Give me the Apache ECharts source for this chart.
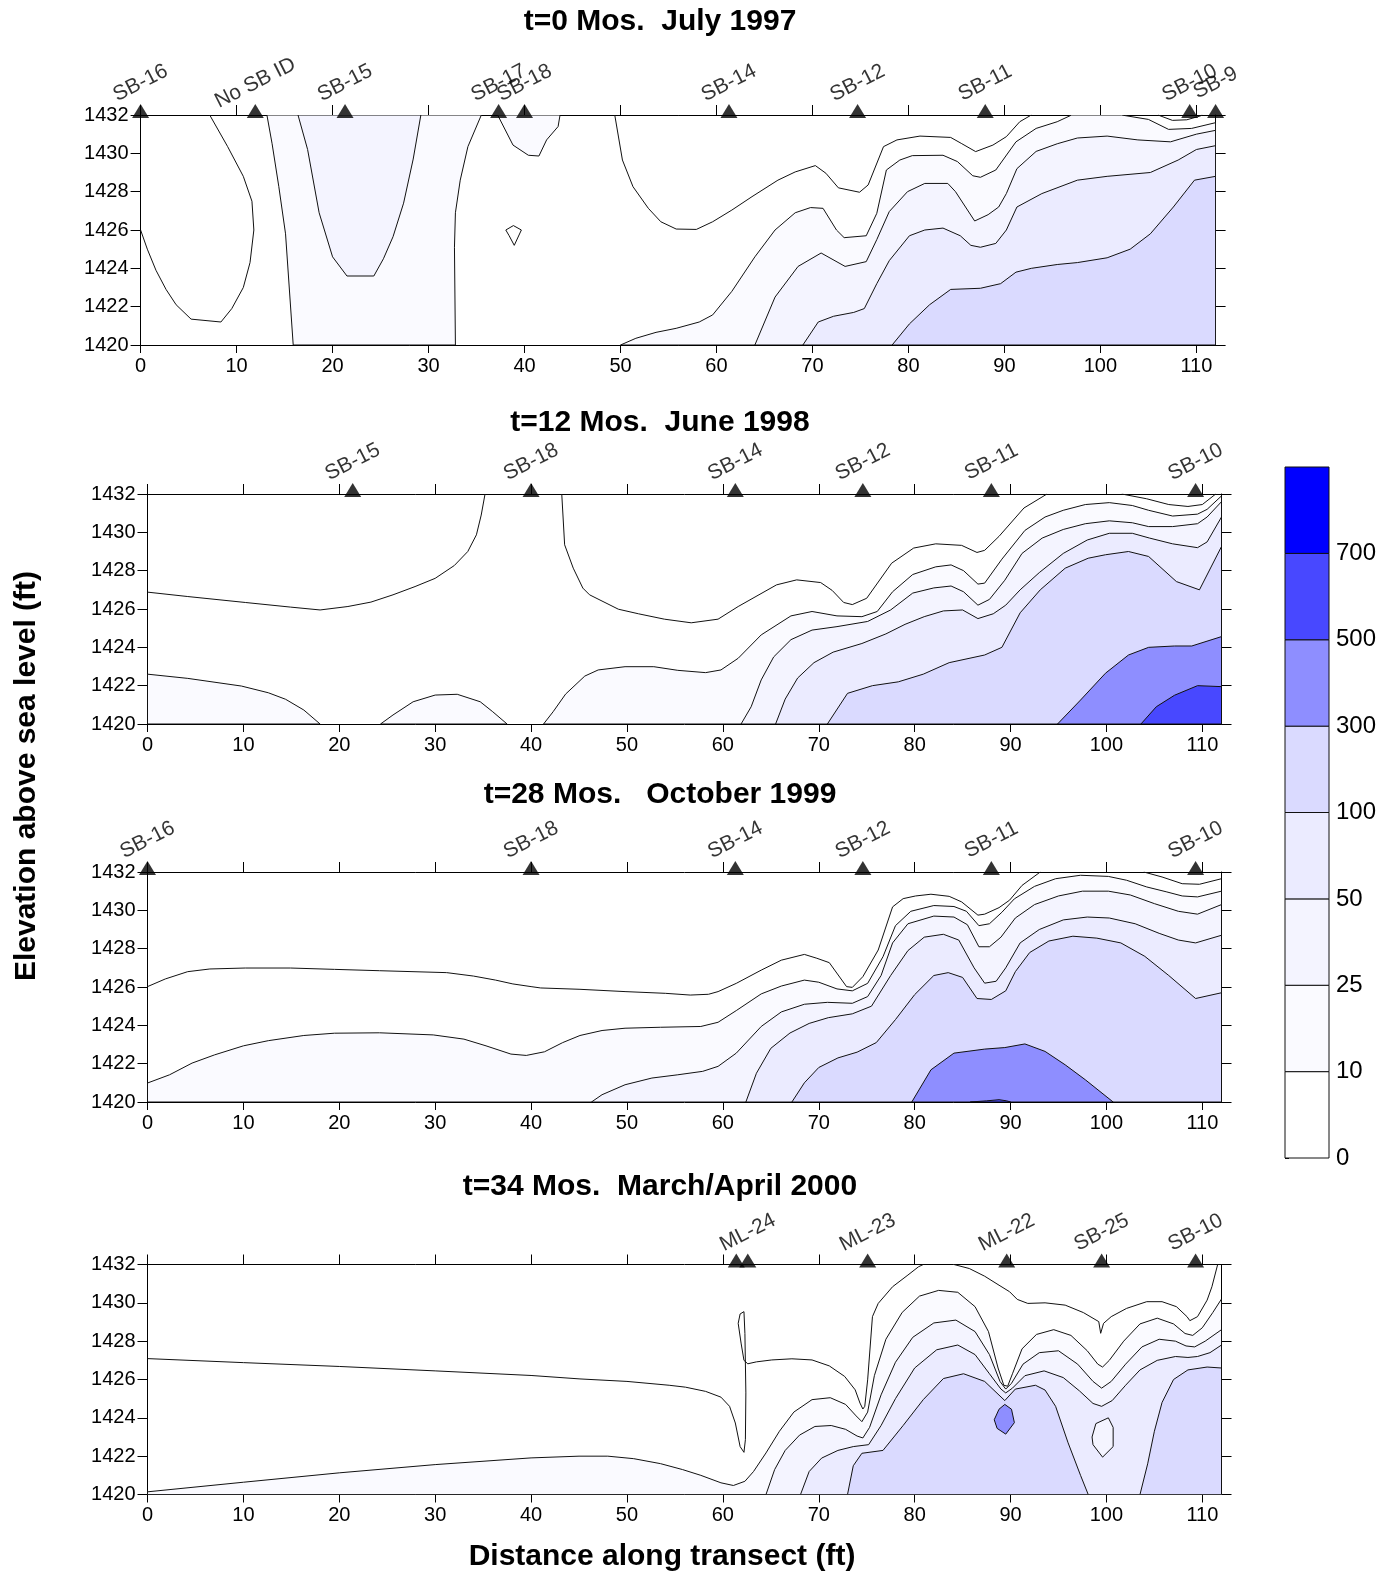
<!DOCTYPE html>
<html>
<head>
<meta charset="utf-8">
<title>Transect concentration sections</title>
<script src="https://cdn.jsdelivr.net/npm/echarts/dist/echarts.min.js"></script>
<style>
  html, body { margin: 0; padding: 0; background: #ffffff; }
  #chart { width: 1395px; height: 1574px; }
</style>
</head>
<body>
<div id="chart"></div>
<script>
// ---------- shared scales ----------
const FONT = '"Liberation Sans", Arial, Helvetica, sans-serif';
const xTicks = [0, 10, 20, 30, 40, 50, 60, 70, 80, 90, 100, 110];
const levelLabels = ['0', '10', '25', '50', '100', '300', '500', '700'];
const levelColors = ['#FFFFFF', '#FAFAFF', '#F4F4FF', '#EBEBFF', '#DADAFF', '#8E8EFF', '#4848FF', '#0000FF'];
// contour value -> band index in levelColors
const bandOf = { 10: 1, 25: 2, 50: 3, 100: 4, 300: 5, 500: 6, 700: 7 };

const titles = ['t=0 Mos.  July 1997', 't=12 Mos.  June 1998', 't=28 Mos.   October 1999', 't=34 Mos.  March/April 2000'];

// ---------- boreholes along the transect (ft) ----------
const p1Wells = ['SB-16', 'No SB ID', 'SB-15', 'SB-17', 'SB-18', 'SB-14', 'SB-12', 'SB-11', 'SB-10', 'SB-9'];
const p1WellX = [0, 11.95, 21.3, 37.3, 40.0, 61.3, 74.7, 88.0, 109.3, 112];
const p2Wells = ['SB-15', 'SB-18', 'SB-14', 'SB-12', 'SB-11', 'SB-10'];
const p2WellX = [21.4, 40.0, 61.3, 74.6, 88.0, 109.3];
const p3Wells = ['SB-16', 'SB-18', 'SB-14', 'SB-12', 'SB-11', 'SB-10'];
const p3WellX = [0, 40.0, 61.3, 74.6, 88.0, 109.3];
const p4Wells = ['', 'ML-24', 'ML-23', 'ML-22', 'SB-25', 'SB-10'];
const p4WellX = [61.4, 62.6, 75.1, 89.6, 99.5, 109.3];

// ---------- t=0 (July 1997): contour outlines [distance, elevation] ----------
const p1_5a = [[0,1426.0],[0.7,1425.0],[1.6,1423.9],[2.65,1422.9],[3.7,1422.1],[5.26,1421.35],[8.37,1421.2],[9.5,1421.9],[10.7,1423.0],[11.4,1424.3],[11.8,1426.0],[11.6,1427.5],[10.7,1428.8],[9.07,1430.35],[7.2,1432]];
const p1_5b = [[38.05,1426.0],[38.84,1426.23],[39.67,1426.0],[38.93,1425.2],[38.4,1425.7],[38.05,1426.0]];
const p1_5c = [[49.4,1432],[50.2,1429.65],[51.3,1428.26],[52.9,1427.13],[54.2,1426.43],[55.8,1426.05],[57.9,1426.03],[59.6,1426.43],[61.6,1427.04],[63.7,1427.74],[66.4,1428.6],[68.2,1429.03],[70.3,1429.36],[71.4,1428.96],[72.7,1428.2],[74.9,1427.97],[75.8,1428.35],[77.4,1430.35],[78.8,1430.7],[81.2,1430.9],[84.4,1430.83],[85.5,1430.52],[87.0,1430.09],[88.8,1430.43],[90.2,1430.87],[91.6,1431.65],[92.8,1432]];
const p1_5d = [[106,1432],[107.5,1431.72],[109,1431.75],[110.4,1431.95],[110.6,1432]];
const p1_10a = [[13.16,1432],[13.7,1430.5],[14.4,1428.26],[15.1,1425.8],[15.9,1420],[32.8,1420],[32.7,1425.1],[32.8,1426.9],[33.3,1428.6],[34.1,1430.35],[35.5,1432]];
const p1_10b = [[37.2,1432],[38.8,1430.43],[40.4,1429.9],[41.5,1429.86],[42.3,1430.7],[43.5,1431.4],[43.7,1432]];
const p1_10c = [[50,1420],[51.6,1420.35],[53.7,1420.66],[55.8,1420.87],[58.2,1421.2],[59.6,1421.57],[61.6,1422.8],[64.0,1424.6],[66.1,1426.0],[68.2,1426.9],[69.8,1427.17],[71.1,1427.13],[72.5,1426.0],[73.3,1425.6],[75.6,1425.7],[76.7,1426.87],[77.7,1429.13],[79.1,1429.65],[80.4,1429.88],[83.6,1429.9],[85.1,1429.57],[86.7,1428.83],[87.5,1428.75],[89.1,1429.13],[91.2,1430.6],[93.3,1431.3],[95.5,1431.65],[97.0,1432],[102.2,1432],[105,1431.77],[107.1,1431.25],[109.5,1431.3],[112,1431.6],[112,1420]];
const p1_25a = [[16.4,1432],[17.4,1430.2],[18.6,1426.9],[20,1424.6],[21.5,1423.6],[24.3,1423.6],[25.3,1424.5],[26.3,1425.65],[27.4,1427.4],[28.4,1429.7],[29.2,1432]];
const p1_25b = [[64.0,1420],[66.1,1422.5],[68.5,1424.1],[70.9,1424.8],[73.4,1424.1],[75.6,1424.35],[76.7,1425.5],[78.0,1426.96],[79.9,1428.0],[81.7,1428.43],[84.1,1428.43],[84.9,1428.0],[86.9,1426.47],[88.3,1426.8],[89.4,1427.2],[90.2,1427.9],[91.3,1429.2],[93.3,1430.1],[95.5,1430.5],[97.6,1430.8],[100.7,1430.9],[103.9,1430.7],[107.3,1430.6],[110,1431.0],[112,1431.2],[112,1420]];
const p1_50 = [[69.0,1420],[70.6,1421.2],[72.2,1421.5],[74.3,1421.7],[75.4,1421.9],[76.7,1423.2],[78.0,1424.4],[80.1,1425.7],[81.7,1426.0],[83.6,1426.1],[85.4,1425.7],[86.5,1425.2],[87.5,1425.1],[89.1,1425.3],[90.2,1426.0],[91.3,1427.2],[93.9,1427.9],[97.6,1428.6],[100.7,1428.8],[105.2,1429.0],[108.1,1429.65],[110,1430.2],[112,1430.4],[112,1420]];
const p1_100 = [[78.3,1420],[80.1,1421.1],[82.2,1422.1],[84.4,1422.9],[87.5,1422.96],[89.6,1423.2],[91.2,1423.8],[92.8,1424.0],[95.5,1424.2],[97.6,1424.3],[100.7,1424.55],[103.1,1425.0],[105.2,1425.8],[107.6,1427.2],[109.8,1428.6],[112,1428.8],[112,1420]];

// ---------- t=12 (June 1998) ----------
const p2_5a = [[0,1426.88],[4.2,1426.65],[10.2,1426.34],[14.9,1426.1],[18,1425.95],[20.9,1426.13],[23.3,1426.36],[25.6,1426.74],[27.9,1427.17],[30,1427.6],[32,1428.27],[33.4,1429.0],[34.3,1429.87],[34.8,1430.9],[35.2,1432]];
const p2_5b = [[43.2,1432],[43.5,1429.35],[44.4,1428.13],[45.4,1427.09],[46.1,1426.74],[49.1,1425.99],[51.2,1425.75],[53.9,1425.47],[56.7,1425.28],[59.5,1425.47],[61.6,1426.13],[65.6,1427.26],[67.7,1427.52],[70.2,1427.38],[71.4,1426.97],[72.6,1426.34],[73.5,1426.23],[75,1426.56],[77.6,1428.39],[79.9,1429.18],[82.2,1429.4],[84.9,1429.32],[86.5,1428.95],[87.3,1429.06],[88.8,1429.79],[91.4,1431.27],[93.8,1432]];
const p2_5c = [[101.6,1432],[104.2,1431.75],[106.5,1431.45],[108.5,1431.35],[110,1431.45],[111.4,1432]];
const p2_10a = [[0,1420],[0,1422.6],[4.2,1422.38],[9.8,1421.98],[12.6,1421.63],[14.4,1421.29],[16.3,1420.73],[18,1420]];
const p2_10b = [[24.3,1420],[25.6,1420.47],[27.7,1421.16],[30,1421.51],[32.3,1421.55],[34.7,1421.16],[36.0,1420.64],[37.5,1420]];
const p2_10c = [[41.3,1420],[42.3,1420.64],[43.6,1421.56],[45.6,1422.5],[47,1422.82],[49.8,1422.99],[52.8,1422.99],[55.3,1422.8],[58.2,1422.68],[59.8,1422.82],[61.6,1423.43],[64,1424.65],[67.1,1425.64],[69.3,1425.87],[71.9,1425.64],[74.5,1425.6],[76.1,1425.87],[77.7,1426.9],[79.8,1427.8],[82.2,1428.2],[83.8,1428.3],[85.1,1428.0],[86.6,1427.3],[87.3,1427.35],[89.1,1428.6],[91.5,1430.1],[93.6,1430.8],[95.5,1431.15],[97.8,1431.45],[100.3,1431.55],[102.7,1431.4],[104.4,1431.15],[106.9,1430.85],[109.5,1430.95],[110.5,1431.2],[112,1431.9],[112,1420]];
const p2_25 = [[61.9,1420],[62.95,1420.9],[64,1422.3],[65.3,1423.5],[67.1,1424.4],[69.3,1424.9],[71.9,1425.08],[75.1,1425.35],[77.5,1425.95],[79.8,1426.83],[82,1427.1],[83.8,1427.2],[85.1,1426.9],[86.6,1426.2],[87.8,1426.5],[89.4,1427.5],[91.2,1428.9],[93.3,1429.7],[95.5,1430.15],[97.8,1430.45],[100.3,1430.6],[102.7,1430.5],[104.4,1430.3],[106.9,1430.3],[109.5,1430.45],[110.5,1430.8],[112,1431.6],[112,1420]];
const p2_50 = [[65.5,1420],[66.5,1421.3],[67.8,1422.4],[69.5,1423.2],[71.5,1423.75],[74.5,1424.2],[77,1424.7],[79,1425.2],[81,1425.6],[83,1425.9],[85,1425.95],[86.6,1425.5],[88.2,1425.75],[89.5,1426.2],[91,1427.0],[93,1427.9],[95.5,1428.9],[98,1429.6],[100.3,1429.95],[102.7,1429.95],[104.5,1429.7],[106.9,1429.4],[109.5,1429.2],[110.5,1429.5],[112,1430.8],[112,1420]];
const p2_100 = [[70.9,1420],[73,1421.6],[75.6,1422.0],[78.3,1422.2],[80.9,1422.6],[83.6,1423.2],[87.3,1423.6],[89.1,1424.0],[91,1425.8],[93.1,1427.0],[95.7,1428.13],[98.1,1428.65],[99.9,1428.83],[102.3,1429.0],[104.4,1428.74],[107.3,1427.43],[109.7,1427.0],[112,1429.26],[112,1420]];
const p2_300 = [[94.9,1420],[97.3,1421.25],[99.9,1422.65],[102.3,1423.6],[104.4,1424.0],[107.1,1424.07],[108.9,1424.07],[112,1424.56],[112,1420]];
const p2_500 = [[103.6,1420],[105.2,1420.9],[107.1,1421.5],[109.5,1422.0],[112,1421.95],[112,1420]];

// ---------- t=28 (October 1999) ----------
const p3_5a = [[0,1426.02],[1.86,1426.42],[4.19,1426.8],[6.5,1426.94],[10.2,1426.99],[14.9,1426.99],[19.5,1426.92],[24.2,1426.85],[31.2,1426.75],[34,1426.57],[36.3,1426.36],[38.1,1426.16],[40,1426.02],[41,1425.95],[45.1,1425.88],[49.8,1425.76],[54,1425.67],[56.6,1425.58],[58.5,1425.62],[59.5,1425.76],[61.4,1426.19],[64,1426.88],[66.1,1427.4],[68.5,1427.7],[69.8,1427.5],[71.1,1427.27],[72.9,1426.02],[73.5,1425.98],[74.6,1426.54],[76.2,1427.93],[77.7,1430.18],[78.8,1430.61],[80.1,1430.75],[81.7,1430.84],[83.6,1430.73],[84.9,1430.44],[86.6,1429.75],[87.3,1429.8],[88.8,1430.14],[89.9,1430.53],[91.2,1431.3],[93.1,1432]];
const p3_5b = [[103.9,1432],[105.8,1431.74],[107.9,1431.39],[109.7,1431.36],[112,1431.65]];
const p3_10 = [[0,1420],[0,1420.99],[2.3,1421.42],[4.65,1422.03],[7,1422.46],[10,1422.93],[12.6,1423.2],[16.3,1423.47],[19.5,1423.59],[24.2,1423.61],[29.8,1423.5],[33,1423.28],[35.3,1422.93],[37.9,1422.5],[39.5,1422.43],[41.4,1422.62],[43.3,1423.1],[45.1,1423.47],[47.4,1423.73],[49.8,1423.85],[53.5,1423.9],[57.7,1423.94],[59.5,1424.16],[61.4,1424.77],[64,1425.64],[66.1,1426.05],[68.5,1426.36],[70,1426.25],[71.9,1425.9],[73.5,1425.8],[75.1,1426.19],[76.7,1427.58],[78,1429.2],[79.6,1429.95],[82,1430.25],[84.1,1430.2],[85.4,1429.95],[86.7,1429.2],[87.8,1429.3],[89.1,1429.9],[90.4,1430.6],[92.5,1431.25],[94.7,1431.65],[97.3,1431.83],[100.2,1431.77],[102.1,1431.57],[104.2,1431.22],[106.3,1430.96],[107.9,1430.75],[109.5,1430.7],[112,1431.0],[112,1420]];
const p3_25 = [[46.3,1420],[47.4,1420.38],[49.8,1420.9],[52.6,1421.25],[55.3,1421.42],[57.9,1421.6],[59.5,1421.86],[61.4,1422.55],[64,1423.94],[66.1,1424.7],[68.5,1425.1],[70.9,1425.2],[73.5,1425.15],[75.1,1425.5],[76.5,1426.6],[77.7,1428.3],[79.3,1429.3],[82,1429.7],[84.1,1429.65],[85.5,1429.25],[86.7,1428.1],[87.8,1428.1],[89,1428.6],[90.5,1429.6],[92.5,1430.3],[95,1430.75],[97.5,1431.0],[100.2,1431.0],[102.5,1430.8],[105,1430.35],[107.5,1429.95],[109.5,1429.8],[112,1430.3],[112,1420]];
const p3_50 = [[62.4,1420],[63.5,1421.5],[65,1422.8],[67,1423.6],[69,1424.1],[71,1424.4],[73.5,1424.6],[75.5,1425.0],[77.5,1426.6],[79.3,1427.9],[81,1428.6],[83,1428.75],[84.6,1428.45],[86.2,1427.0],[87.3,1426.2],[88.5,1426.3],[89.5,1427.0],[91,1428.3],[93,1429.0],[95.5,1429.5],[98,1429.65],[100.3,1429.6],[103,1429.3],[105.5,1428.8],[107.5,1428.45],[109.3,1428.3],[112,1428.7],[112,1420]];
const p3_100 = [[67.2,1420],[68.5,1421.0],[70,1421.8],[72,1422.3],[74,1422.6],[76,1423.1],[78,1424.3],[80,1425.6],[82,1426.6],[83.5,1426.75],[85,1426.5],[86.5,1425.4],[88,1425.35],[89.5,1425.8],[90.5,1426.8],[92,1427.8],[94,1428.4],[96.5,1428.65],[99,1428.55],[101.5,1428.3],[104,1427.6],[106.5,1426.6],[109.3,1425.4],[112,1425.7],[112,1420]];
const p3_300 = [[79.7,1420],[81.7,1421.68],[84.1,1422.55],[87.3,1422.76],[89.4,1422.84],[91.5,1423.03],[93.6,1422.64],[95.7,1421.94],[97.8,1421.16],[100.7,1420]];
const p3_500 = [[85.8,1420],[87.5,1420.06],[88.8,1420.12],[89.6,1420.06],[90,1420]];

// ---------- t=34 (March/April 2000) ----------
const p4_5a = [[0,1427.09],[10,1426.88],[20,1426.68],[30,1426.45],[40,1426.21],[45.1,1426.03],[50,1425.9],[54.4,1425.7],[56.1,1425.6],[58.2,1425.38],[59.8,1425.08],[60.7,1424.6],[61.3,1423.73],[61.8,1422.5],[62.2,1422.2],[62.35,1422.86],[62.4,1425.3],[62.3,1428.4],[62.2,1429.54],[61.8,1429.42],[61.6,1428.93],[61.9,1427.9],[62.2,1427.0],[62.6,1426.82],[63.5,1426.92],[65.1,1427.02],[67.2,1427.08],[69.3,1427.02],[71.1,1426.71],[72.7,1426.16],[73.8,1425.46],[74.3,1424.77],[74.6,1424.46],[74.8,1424.6],[75.1,1425.98],[75.6,1429.28],[76.2,1429.97],[77.7,1430.84],[79.3,1431.45],[80.4,1431.88],[80.9,1432]];
const p4_5b = [[84.1,1432],[85.7,1431.79],[87.3,1431.39],[88.8,1430.92],[89.9,1430.58],[90.7,1430.18],[91.8,1429.97],[93.6,1430.0],[95.7,1429.88],[97.6,1429.49],[99.2,1429.02],[99.4,1428.41],[99.7,1428.93],[100.5,1429.28],[102.1,1429.71],[104.2,1430.06],[105.8,1430.06],[107.3,1429.8],[108.4,1429.28],[108.7,1429.07],[109.5,1429.28],[110.5,1430.14],[111.0,1430.84],[111.6,1432]];
const p4_10 = [[0,1420],[0,1420.14],[10,1420.64],[20,1421.13],[30,1421.56],[40,1421.91],[45,1422.0],[48,1422.0],[50.7,1421.87],[53.5,1421.61],[55.8,1421.3],[57.7,1421.0],[59.8,1420.61],[61.1,1420.47],[62.3,1420.69],[63.2,1421.2],[64.5,1422.17],[65.9,1423.3],[67.4,1424.3],[69.3,1424.95],[71.2,1425.05],[72.8,1424.7],[73.9,1424.1],[74.5,1423.8],[75.1,1424.3],[75.8,1426.2],[77,1428.1],[78.7,1429.5],[80.5,1430.35],[82.5,1430.65],[84.5,1430.55],[86.3,1429.8],[87.7,1428.5],[88.7,1426.6],[89.3,1425.7],[89.7,1425.65],[90.2,1426.3],[91.2,1427.6],[92.7,1428.35],[94.5,1428.6],[96.3,1428.3],[98,1427.5],[99.1,1426.8],[99.6,1426.65],[100.3,1427.0],[101.8,1428.0],[103.5,1428.9],[105.3,1429.2],[107,1428.9],[108.2,1428.4],[109,1428.3],[110,1428.7],[111.1,1429.5],[112,1430.2],[112,1420]];
const p4_25 = [[64.5,1420],[65.4,1421.3],[66.5,1422.3],[68,1423.1],[69.6,1423.55],[71.3,1423.6],[72.8,1423.4],[74,1423.05],[74.6,1422.95],[75.3,1423.5],[76.5,1425.2],[78,1426.9],[79.8,1428.2],[82,1428.95],[84.3,1429.1],[86.3,1428.5],[87.8,1427.3],[88.9,1425.9],[89.5,1425.5],[90.1,1425.8],[91.3,1426.8],[93,1427.4],[95,1427.5],[97,1426.8],[98.6,1425.9],[99.5,1425.55],[100.5,1425.9],[102,1426.8],[103.7,1427.7],[105.5,1428.1],[107.2,1428.0],[108.3,1427.75],[109.2,1427.7],[110.3,1428.0],[112,1428.6],[112,1420]];
const p4_50 = [[68.1,1420],[69,1421.2],[70.3,1421.9],[72,1422.3],[73.6,1422.5],[75.2,1422.6],[76.5,1423.6],[78,1425.0],[80,1426.6],[82.3,1427.55],[84.5,1427.8],[86.3,1427.3],[87.8,1426.3],[89,1425.5],[89.5,1425.3],[90.2,1425.55],[91.5,1426.2],[93.5,1426.45],[95.5,1426.1],[97.2,1425.4],[98.6,1424.75],[99.5,1424.6],[100.6,1424.9],[102,1425.7],[103.5,1426.5],[105.3,1427.0],[107.2,1427.2],[108.5,1427.15],[109.5,1427.2],[110.8,1427.4],[112,1427.8],[112,1420]];
const p4_25in = [[98.5,1423.0],[98.9,1423.7],[100.2,1424.0],[100.7,1423.5],[100.7,1422.5],[99.6,1421.95],[98.6,1422.6]];
const p4_100a = [[73,1420],[73.6,1421.5],[74.5,1422.15],[76.7,1422.3],[78.8,1423.6],[80.9,1424.95],[83,1426.05],[85.1,1426.3],[87.3,1425.9],[89.4,1424.9],[90.5,1425.5],[92.6,1425.7],[93.6,1425.45],[94.7,1424.6],[96,1422.7],[97.3,1421.0],[98.1,1420]];
const p4_100b = [[103.5,1420],[104.3,1421.6],[105,1423.3],[105.8,1424.8],[107,1426.0],[108.5,1426.5],[110.5,1426.65],[112,1426.6],[112,1420]];
const p4_300 = [[88.3,1423.9],[88.8,1424.45],[89.4,1424.7],[90.1,1424.45],[90.4,1423.75],[89.5,1423.15],[88.6,1423.45]];

// filled bands per section, lowest level first; each entry is [contour value, outline]
const sections = [
  { grid: { left: 140.6, top: 115, width: 1075, height: 230 }, titleY: 22,
    fills: [[10, p1_10a], [10, p1_10b], [10, p1_10c], [25, p1_25a], [25, p1_25b], [50, p1_50], [100, p1_100]],
    lines: [p1_5a, p1_5b, p1_5c, p1_5d], wells: p1Wells, wellX: p1WellX },
  { grid: { left: 147.5, top: 494, width: 1074, height: 230 }, titleY: 423,
    fills: [[10, p2_10a], [10, p2_10b], [10, p2_10c], [25, p2_25], [50, p2_50], [100, p2_100], [300, p2_300], [500, p2_500]],
    lines: [p2_5a, p2_5b, p2_5c], wells: p2Wells, wellX: p2WellX },
  { grid: { left: 147.5, top: 872, width: 1074, height: 230 }, titleY: 795,
    fills: [[10, p3_10], [25, p3_25], [50, p3_50], [100, p3_100], [300, p3_300], [500, p3_500]],
    lines: [p3_5a, p3_5b], wells: p3Wells, wellX: p3WellX },
  { grid: { left: 147.5, top: 1264.5, width: 1074, height: 230 }, titleY: 1187,
    fills: [[10, p4_10], [25, p4_25], [50, p4_50], [25, p4_25in], [100, p4_100a], [100, p4_100b], [300, p4_300]],
    lines: [p4_5a, p4_5b], wells: p4Wells, wellX: p4WellX }
];

// ---------- option assembly ----------
const grids = [], xAxes = [], yAxes = [], series = [], graphics = [];
const black = '#000000';

sections.forEach((s, gi) => {
  grids.push(Object.assign({ containLabel: false }, s.grid));
  // bottom axis (labelled) and top axis (ticks only)
  xAxes.push({
    type: 'value', gridIndex: gi, min: 0, max: 112, position: 'bottom',
    axisLine: { onZero: false, lineStyle: { color: black, width: 1 } },
    axisTick: { customValues: xTicks, length: 8, lineStyle: { color: black } },
    axisLabel: { customValues: xTicks, margin: 11, fontSize: 20, fontFamily: FONT, color: black,
      formatter: v => String(v) },
    splitLine: { show: false }
  });
  xAxes.push({
    type: 'value', gridIndex: gi, min: 0, max: 112, position: 'top',
    axisLine: { onZero: false, lineStyle: { color: black, width: 1 } },
    axisTick: { customValues: xTicks, length: 10, lineStyle: { color: black } },
    axisLabel: { show: false }, splitLine: { show: false }
  });
  // left axis (labelled) and right axis (ticks only)
  yAxes.push({
    type: 'value', gridIndex: gi, min: 1420, max: 1432, interval: 2, position: 'left',
    axisLine: { show: true, onZero: false, lineStyle: { color: black, width: 1 } },
    axisTick: { show: true, length: 10, lineStyle: { color: black } },
    axisLabel: { margin: 12, fontSize: 20, fontFamily: FONT, color: black, formatter: v => String(v) },
    splitLine: { show: false }
  });
  yAxes.push({
    type: 'value', gridIndex: gi, min: 1420, max: 1432, interval: 2, position: 'right',
    axisLine: { show: true, onZero: false, lineStyle: { color: black, width: 1 } },
    axisTick: { show: true, length: 10, lineStyle: { color: black } },
    axisLabel: { show: false }, splitLine: { show: false }
  });

  const xi = gi * 2, yi = gi * 2;
  const fills = s.fills;
  // filled contour bands, outlined with their contour line
  series.push({
    type: 'custom', xAxisIndex: xi, yAxisIndex: yi, clip: true, silent: true, z: 2,
    data: fills.map((f, i) => [i]),
    renderItem: function (params, api) {
      const f = fills[params.dataIndex];
      const pts = f[1].map(p => api.coord(p));
      return {
        type: 'polygon', shape: { points: pts },
        style: { fill: levelColors[bandOf[f[0]]], stroke: '#111111', lineWidth: 1, lineJoin: 'round' }
      };
    }
  });
  // lower contour lines inside the white band
  s.lines.forEach(line => {
    series.push({
      type: 'line', xAxisIndex: xi, yAxisIndex: yi, data: line, symbol: 'none', showSymbol: false,
      silent: true, z: 3, clip: true, lineStyle: { color: '#111111', width: 1 }
    });
  });
  // borehole markers on the ground line
  series.push({
    type: 'scatter', xAxisIndex: xi, yAxisIndex: yi, clip: false, silent: true, z: 6,
    symbol: 'triangle', symbolSize: [17, 14], symbolOffset: [0, -4],
    itemStyle: { color: black },
    data: s.wells.map((n, i) => ({ name: n, value: [s.wellX[i], 1432] })),
    label: {
      show: true, formatter: '{b}', position: 'top', distance: 21, rotate: 27,
      align: 'center', verticalAlign: 'middle',
      fontSize: 21, fontFamily: FONT, color: black
    }
  });

  graphics.push({
    type: 'text', x: 660, y: s.titleY, silent: true,
    style: { text: titles[gi], fill: black, font: 'bold 30px ' + FONT, align: 'center', verticalAlign: 'middle' }
  });
});

// colour scale bar: one equal-height cell per band, labelled at the band edges
const cbIndex = sections.length;
grids.push({ left: 1285, top: 467, width: 44, height: 691, containLabel: false });
xAxes.push({ type: 'value', gridIndex: cbIndex, min: 0, max: 1, show: false });
yAxes.push({
  type: 'value', gridIndex: cbIndex, min: 0, max: 8, interval: 1, position: 'right',
  axisLine: { show: false },
  axisTick: { show: true, length: 4, lineStyle: { color: black } },
  axisLabel: { margin: 7, fontSize: 24, fontFamily: FONT, color: black,
    formatter: v => (v < levelLabels.length ? levelLabels[v] : '') },
  splitLine: { show: false }
});
series.push({
  type: 'custom', xAxisIndex: cbIndex * 2, yAxisIndex: cbIndex * 2, silent: true, z: 2,
  data: levelColors.map((c, i) => [i]),
  renderItem: function (params, api) {
    const i = params.dataIndex;
    const a = api.coord([0, i + 1]);
    const b = api.coord([1, i]);
    return {
      type: 'rect', shape: { x: a[0], y: a[1], width: b[0] - a[0], height: b[1] - a[1] },
      style: { fill: levelColors[i], stroke: '#111111', lineWidth: 1 }
    };
  }
});

// shared axis titles
graphics.push({
  type: 'text', x: 27, y: 776, rotation: Math.PI / 2, silent: true,
  style: { text: 'Elevation above sea level (ft)', fill: black, font: 'bold 30px ' + FONT, align: 'center', verticalAlign: 'middle' }
});
graphics.push({
  type: 'text', x: 662, y: 1557, silent: true,
  style: { text: 'Distance along transect (ft)', fill: black, font: 'bold 30px ' + FONT, align: 'center', verticalAlign: 'middle' }
});

const chart = echarts.init(document.getElementById('chart'), null, { renderer: 'canvas', width: 1395, height: 1574 });
chart.setOption({
  backgroundColor: '#ffffff',
  animation: false,
  grid: grids,
  xAxis: xAxes,
  yAxis: yAxes,
  series: series,
  graphic: graphics
});
</script>
</body>
</html>
